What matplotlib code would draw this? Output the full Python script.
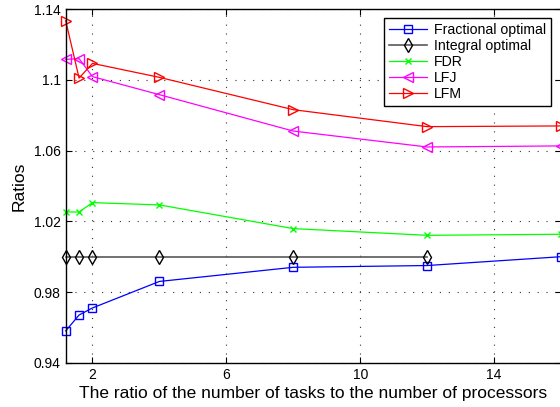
import matplotlib
matplotlib.use('Agg')
import matplotlib.pyplot as plt
from matplotlib.ticker import FormatStrFormatter

plt.rcParams['font.family'] = ['Liberation Sans', 'DejaVu Sans']

# ratio of tasks to processors
x = [1.2, 1.6, 2, 4, 8, 12, 16]
x_int = [1.2, 1.6, 2, 4, 8, 12]

frac_opt = [0.958, 0.967, 0.971, 0.986, 0.994, 0.995, 1.000]
int_opt = [1.000, 1.000, 1.000, 1.000, 1.000, 1.000]
fdr = [1.0253, 1.0253, 1.0306, 1.0293, 1.0159, 1.0121, 1.0127]
lfj = [1.1117, 1.1121, 1.1019, 1.0917, 1.0711, 1.0621, 1.0627]
lfm = [1.1336, 1.1011, 1.1094, 1.1015, 1.0832, 1.0736, 1.0740]

xticks = [2, 6, 10, 14]
yticks = [0.94, 0.98, 1.02, 1.06, 1.1, 1.14]

fig = plt.figure(figsize=(5.6, 4.07), dpi=100)
ax = fig.add_axes([0.1173, 0.1088, 0.8845, 0.8683])

lw = 0.9
ax.plot(x, frac_opt, color='#0000ff', marker='s', ms=5.5, mfc='none', lw=lw,
        label='Fractional optimal', clip_on=False)
ax.plot(x_int, int_opt, color='#555555', marker='d', ms=7, mfc='none', mec='black',
        lw=lw * 1.3, label='Integral optimal', clip_on=False)
ax.plot(x, fdr, color='#00ff00', marker='x', ms=4.5, lw=lw, label='FDR', clip_on=False)
ax.plot(x, lfj, color='#ff00ff', marker='<', ms=7, mfc='none', lw=lw, label='LFJ',
        clip_on=False)
ax.plot(x, lfm, color='#ff0000', marker='>', ms=7, mfc='none', lw=lw, label='LFM',
        clip_on=False)

ax.set_xlim(1.2, 16)
ax.set_ylim(0.94, 1.14)
ax.set_xticks(xticks)
ax.set_yticks(yticks)
ax.yaxis.set_major_formatter(FormatStrFormatter('%g'))
ax.tick_params(direction='in', top=True, right=True, labelsize=10, length=4)
ax.grid(True, linestyle=(0, (1, 7)), color='#333333', linewidth=0.8)
for s in ax.spines.values():
    s.set_linewidth(1.0)

ax.set_xlabel('The ratio of the number of tasks to the number of processors', fontsize=12.5, labelpad=3)
ax.set_ylabel('Ratios', fontsize=12.5, labelpad=5)

leg = ax.legend(loc='upper right', fontsize=10.2, handlelength=2.7, borderaxespad=0.6,
                fancybox=False, framealpha=1, labelspacing=0.15, borderpad=0.35,
                handletextpad=0.5, bbox_to_anchor=(0.997, 1.0))
leg.get_frame().set_edgecolor('black')
leg.get_frame().set_linewidth(1.0)

fig.savefig('out.png', dpi=100)
